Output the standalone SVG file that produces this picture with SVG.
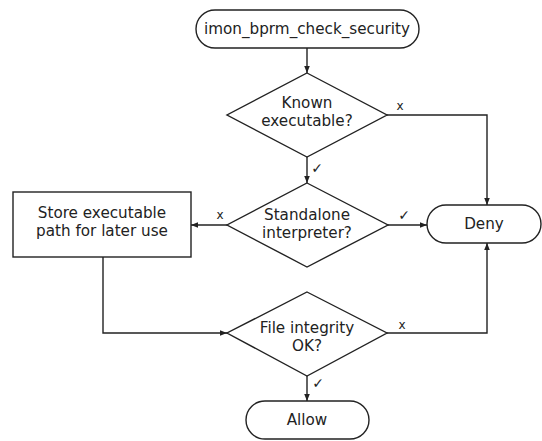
<svg xmlns="http://www.w3.org/2000/svg" width="542" height="441" viewBox="0 0 542 441">
<defs>
<marker id="ah" viewBox="0 0 10 10" refX="10" refY="5" markerWidth="7" markerHeight="7" markerUnits="userSpaceOnUse" orient="auto">
<path d="M0,1 L10,5 L0,9 Z" fill="#222"/>
</marker>
<style>
.s{fill:#fff;stroke:#222;stroke-width:1.4}
.t{font-family:"DejaVu Sans",sans-serif;font-size:15.2px;fill:#222;text-anchor:middle}
.l{font-family:"DejaVu Sans",sans-serif;font-size:12px;fill:#222;text-anchor:middle}
.k{font-family:"DejaVu Sans",sans-serif;font-size:14px;fill:#222;text-anchor:middle}
.c{fill:none;stroke:#222;stroke-width:1.4}
</style>
</defs>
<rect width="542" height="441" fill="#fff"/>
<g id="connectors">
<path class="c" d="M307,48 V73" marker-end="url(#ah)"/>
<path class="c" d="M387,115 H487 V205" marker-end="url(#ah)"/>
<path class="c" d="M307,157 V183" marker-end="url(#ah)"/>
<path class="c" d="M388,225 H427" marker-end="url(#ah)"/>
<path class="c" d="M227,225 H191" marker-end="url(#ah)"/>
<path class="c" d="M103,257 V333 H227" marker-end="url(#ah)"/>
<path class="c" d="M387,333 H487 V243" marker-end="url(#ah)"/>
<path class="c" d="M307,376 V401" marker-end="url(#ah)"/>
<text class="l" x="400" y="110">x</text>
<text class="k" x="317" y="173">✓</text>
<text class="l" x="220" y="219">x</text>
<text class="k" x="404" y="220">✓</text>
<text class="l" x="402" y="329">x</text>
<text class="k" x="318" y="388">✓</text>
</g>
<g id="start">
<rect class="s" x="196" y="10" width="223" height="38" rx="19"/>
<text class="t" x="307" y="34">imon_bprm_check_security</text>
</g>
<g id="known">
<path class="s" d="M307,73 L387,115 L307,157 L227,115 Z"/>
<text class="t" x="307" y="108">Known</text>
<text class="t" x="307" y="126">executable?</text>
</g>
<g id="standalone">
<path class="s" d="M307,183 L388,225 L307,267 L227,225 Z"/>
<text class="t" x="307" y="220">Standalone</text>
<text class="t" x="307" y="238">interpreter?</text>
</g>
<g id="store">
<rect class="s" x="13" y="192" width="178" height="65"/>
<text class="t" x="102" y="218">Store executable</text>
<text class="t" x="102" y="236">path for later use</text>
</g>
<g id="deny">
<rect class="s" x="427" y="205" width="114" height="38" rx="19"/>
<text class="t" x="484" y="229">Deny</text>
</g>
<g id="integrity">
<path class="s" d="M307,292 L387,333 L307,376 L227,333 Z"/>
<text class="t" x="307" y="333">File integrity</text>
<text class="t" x="307" y="351">OK?</text>
</g>
<g id="allow">
<rect class="s" x="246" y="401" width="123" height="38" rx="19"/>
<text class="t" x="307" y="425">Allow</text>
</g>
</svg>
